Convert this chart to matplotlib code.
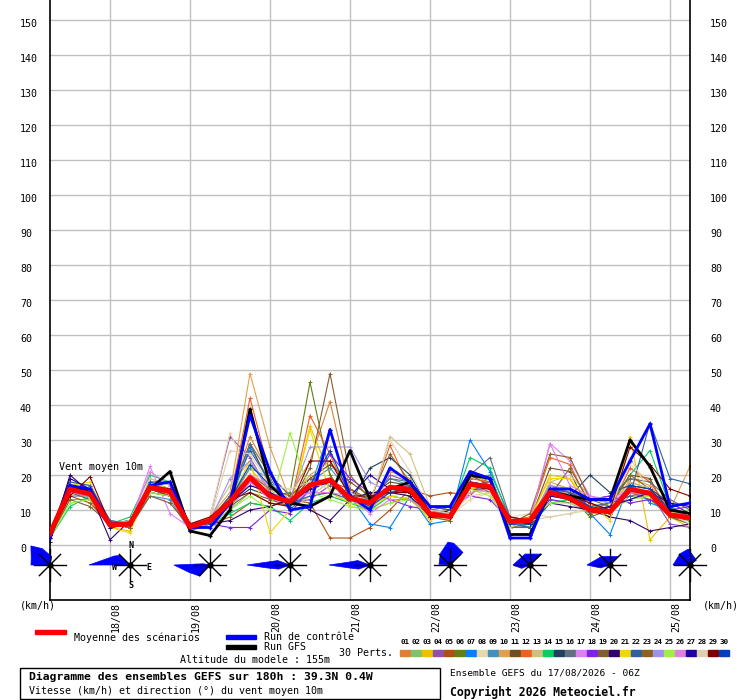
import matplotlib
matplotlib.use('Agg')
import numpy as np
import matplotlib.pyplot as plt
from matplotlib.patches import Polygon, Rectangle

# Lead times of the run (hours after 17/08 06Z)
hours = [0, 6, 12, 18, 24, 30, 36, 42, 48, 54, 60, 66, 72, 78, 84, 90, 96,
         102, 108, 114, 120, 126, 132, 138, 144, 150, 156, 162, 168, 174, 180, 186, 192]

date_labels = ['18/08', '19/08', '20/08', '21/08', '22/08', '23/08', '24/08', '25/08']
date_hours = [18, 42, 66, 90, 114, 138, 162, 186]

# Mean of the scenarios, control run and GFS run (km/h)
mean_vals = [3.3, 15.9, 14.6, 5.7, 6.0, 16.5, 15.2, 5.2, 7.0, 12.4, 19.3, 14.0, 12.4, 17.1, 18.6, 13.3, 12.1,
             16.5, 15.9, 8.9, 8.1, 17.3, 16.7, 6.7, 7.0, 15.0, 13.3, 10.0, 9.5, 15.9, 14.8, 8.6, 7.8]
control_vals = [2, 17, 16, 6, 6, 17, 18, 5, 5, 12, 37, 21, 10, 11, 33, 14, 10,
                22, 18, 11, 11, 21, 19, 2, 2, 16, 16, 13, 13, 24, 34.6, 11, 12]
gfs_vals = [3, 17, 15, 6, 6, 16, 21, 4, 2.7, 10, 38.8, 17, 12, 11, 14, 27, 13,
            16, 18, 9, 8, 20, 19, 3, 3, 15, 14, 13, 13, 30, 22.4, 10, 9]

# 30 perturbations
p01 = [2, 15, 14, 6, 5, 17, 15, 5, 7, 14, 31, 20, 14, 24, 41, 16, 12, 14, 13, 8, 9, 18, 17, 6, 6, 17, 14, 11, 8, 18, 16, 9, 7]
p02 = [3, 13, 13, 6, 7, 18, 16, 4, 6, 10, 15, 12, 11, 14, 15, 12, 10, 16, 15, 9, 8, 20, 18, 7, 6, 13, 12, 9, 9, 14, 13, 8, 6]
p03 = [4, 17, 15, 5, 4, 16, 15, 5, 8, 12, 22, 15, 10, 34, 20, 11, 10, 12, 14, 7, 10, 16, 15, 6, 7, 20, 19, 9, 10, 31, 1.5, 8, 5]
p04 = [3, 16, 15, 6, 7, 16, 14, 6, 8, 31, 25, 15, 12, 13, 17, 14, 11, 20, 18, 10, 9, 17, 18, 7, 8, 15, 16, 10, 12, 14, 15, 6, 5]
p05 = [3, 14, 12, 6, 5, 15, 14, 5, 6, 8, 12, 11, 13, 12, 2, 2, 5, 10, 16, 14, 15, 14, 20, 5, 7, 14, 15, 12, 10, 15, 13, 9, 9]
p06 = [2, 16, 15, 5, 6, 17, 16, 4, 7, 11, 18, 14, 15, 46.5, 20, 12, 11, 17, 15, 8, 9, 18, 17, 5, 6, 16, 14, 8, 10, 17, 14, 11, 8]
p07 = [3, 17, 16, 7, 6, 18, 16, 5, 6, 12, 28, 18, 10, 16, 33, 14, 6, 5, 14, 6, 7, 30, 21, 8, 7, 15, 13, 9, 3, 18, 12, 10, 9]
p08 = [4, 15, 16, 6, 7, 17, 15, 6, 8, 32, 20, 17, 13, 15, 14, 12, 10, 14, 15, 9, 8, 13, 15, 8, 9, 8, 9, 11, 10, 23, 18, 9, 10]
p09 = [3, 16, 15, 5, 6, 14, 13, 4, 6, 13, 22, 19, 11, 18, 22, 15, 13, 19, 17, 10, 8, 19, 20, 6, 5, 14, 13, 10, 11, 16, 15, 11, 8]
p10 = [4, 17, 16, 6, 6, 18, 16, 5, 8, 15, 49, 28, 13, 20, 24, 16, 12, 21, 19, 9, 10, 18, 17, 7, 6, 18, 16, 12, 9, 19, 17, 10, 22.5]
p11 = [3, 15, 13, 5, 6, 16, 15, 5, 7, 14, 29, 17, 12, 19, 23, 18, 14, 18, 17, 8, 9, 20, 17, 6, 7, 22, 21, 9, 11, 20, 19, 8, 7]
p12 = [3, 16, 15, 6, 5, 17, 16, 6, 7, 13, 42, 20, 11, 37, 26, 13, 12, 28.5, 16, 9, 8, 19, 18, 7, 8, 25, 23, 11, 10, 22, 18, 10, 8]
p13 = [4, 18, 17, 7, 6, 19, 17, 6, 8, 17, 24, 16, 10, 14, 18, 13, 11, 31, 26, 11, 10, 16, 15, 8, 6, 18, 20, 14, 12, 18, 16, 9, 10]
p14 = [2, 11, 14, 6, 8, 20, 18, 5, 6, 9, 12, 11, 7, 12, 14, 12, 10, 14, 13, 8, 9, 25, 22, 7, 5, 12, 13, 10, 12, 20, 27, 11, 7]
p15 = [3, 16, 15, 5, 6, 16, 15, 6, 7, 12, 16, 14, 12, 17, 18, 12, 22, 25, 20, 10, 9, 17, 16, 6, 8, 15, 14, 20, 15, 17, 16, 12, 9]
p16 = [4, 14, 14, 6, 7, 15, 14, 5, 8, 13, 29, 20, 14, 19, 17, 15, 13, 19, 18, 11, 10, 20, 25, 8, 7, 17, 15, 13, 14, 19, 18, 13, 10]
p17 = [3, 17, 15, 6, 6, 22.5, 9, 5, 6, 10, 18, 13, 12, 15, 19, 13, 10, 16, 17, 8, 7, 16, 17, 6, 7, 29, 24, 14, 12, 16, 15, 9, 8]
p18 = [3, 16, 16, 6, 7, 17, 15, 6, 6, 5, 5, 10, 9, 16, 26, 19, 15, 13, 11, 10, 11, 14, 13, 7, 6, 13, 12, 13, 14, 12, 13, 10, 11]
p19 = [2, 13, 11, 6, 5, 14, 12, 5, 7, 11, 15, 13, 11, 22, 49, 20, 13, 15, 16, 9, 8, 18, 15, 5, 5, 14, 22, 12, 9, 16, 14, 8, 6]
p20 = [1, 20, 15, 1.5, 7, 16, 14, 5, 6, 7, 10, 11, 13, 10, 7, 13, 15, 15, 14, 8, 10, 16, 16, 7, 6, 12, 11, 10, 8, 7, 4, 5, 6]
p21 = [3, 17, 18, 5, 3.5, 18, 16, 5, 8, 13, 24, 3.5, 10, 33, 15, 12, 11, 14, 13, 8, 7, 16, 17, 6, 8, 19, 19, 12, 7, 30, 22, 10, 7]
p22 = [3, 18, 17, 7, 6, 17, 16, 6, 7, 14, 27, 18, 12, 14, 15, 13, 12, 16, 17, 11, 10, 18, 17, 6, 5, 16, 15, 11, 12, 14, 35, 19, 17.5]
p23 = [3, 15, 14, 6, 5, 16, 14, 5, 7, 12, 20, 16, 14, 19, 18, 16, 13, 26, 18, 8, 7, 17, 16, 6, 9, 26, 25, 13, 11, 20, 16, 9, 8]
p24 = [3, 16, 15, 6, 6, 17, 16, 6, 7, 19, 24, 15, 13, 28, 28, 28, 18, 15, 16, 10, 9, 18, 17, 8, 7, 17, 16, 13, 12, 15, 14, 10, 9]
p25 = [2, 12, 13, 6, 7, 15, 14, 5, 6, 10, 14, 10, 32, 15, 13, 11, 10, 12, 13, 9, 9, 16, 14, 6, 7, 12, 12, 11, 10, 13, 14, 9, 6]
p26 = [3, 15, 14, 6, 6, 21, 17, 5, 7, 11, 20, 17, 13, 15, 15, 14, 9, 13, 13, 9, 8, 15, 16, 7, 7, 29, 17, 14, 13, 16, 15, 10, 8]
p27 = [3, 19, 16, 5, 6, 16, 15, 6, 7, 12, 17, 15, 12, 16, 18, 14, 20, 16, 15, 9, 8, 17, 16, 7, 6, 14, 13, 10, 11, 13, 15, 12, 11]
p28 = [4, 16, 15, 6, 6, 16, 15, 5, 7, 27, 26, 17, 16, 18, 16, 15, 12, 30, 21, 10, 9, 14, 15, 5, 7, 8, 9, 10, 10, 25, 15, 9, 6]
p29 = [3, 14, 19.5, 6, 6, 17, 16, 6, 8, 13, 15, 12, 11, 24, 24, 14, 14, 15, 15, 8, 8, 17, 16, 8, 7, 15, 14, 12, 10, 28, 23, 16, 14]
p30 = [3, 17, 16, 6, 6, 18, 18, 6, 6, 13, 23, 17, 11, 17, 27, 14, 11, 15, 16, 9, 8, 18, 17, 6, 6, 16, 14, 11, 10, 17, 16, 10, 9]
perts = [p01, p02, p03, p04, p05, p06, p07, p08, p09, p10, p11, p12, p13, p14, p15,
         p16, p17, p18, p19, p20, p21, p22, p23, p24, p25, p26, p27, p28, p29, p30]

pert_colors = ['#E08030', '#80C070', '#F0C000', '#9050B0', '#B05010', '#608010', '#0080FF', '#E8D8B0',
               '#4090C0', '#E0A050', '#705020', '#F06020', '#D0C080', '#00D060', '#204060', '#607080',
               '#E080F8', '#8020F0', '#806030', '#300070', '#F0D800', '#3060A0', '#906020', '#A090F0',
               '#A0F040', '#E080E0', '#2000A0', '#E0D0B0', '#800000', '#0040C0']

# Wind roses, one per day at 06Z: (bearing the wind comes from, length)
rose_hours = [0, 24, 48, 72, 96, 120, 144, 168, 192]
rose1 = [(270, 19), (290, 20), (315, 27), (335, 18), (12, 8.5)]
rose2 = [(270, 41), (300, 18), (313, 14)]
rose3 = [(222, 15), (250, 22), (270, 36), (280, 7)]
rose4 = [(250, 12), (262, 22), (270, 43), (278, 22), (290, 13)]
rose5 = [(250, 12), (262, 21), (270, 41), (278, 21), (290, 13)]
rose6 = [(274, 11), (320, 15), (355, 23), (10, 22), (46, 18)]
rose7 = [(248, 9), (270, 17), (336, 12), (47, 16)]
rose8 = [(253, 10), (270, 23), (315, 12), (45, 12)]
rose9 = [(270, 17), (319, 15), (354, 16), (53, 8)]
roses = [rose1, rose2, rose3, rose4, rose5, rose6, rose7, rose8, rose9]

MONO = 'DejaVu Sans Mono'
W, H = 740, 700


def fx(px):
    return px / W


def fy(py):
    return 1 - py / H


fig = plt.figure(figsize=(7.4, 7.0), dpi=100)
ax = fig.add_axes([50 / W, 100 / H, 640 / W, 600 / H])
ax.set_xlim(0, 192)
ax.set_ylim(-55 / 3.5, 545 / 3.5)
ax.set_xticks([])
ax.set_yticks([])
for side in ['left', 'right', 'bottom']:
    ax.spines[side].set_linewidth(1.2)
ax.spines['top'].set_visible(False)

# Grid
for v in range(0, 151, 10):
    ax.axhline(v, color='#C0C0C0', lw=1, zorder=0)
for h in date_hours:
    ax.axvline(h, color='#C0C0C0', lw=1, zorder=0)

# Ensemble members
for vals, col in zip(perts, pert_colors):
    ax.plot(hours, vals, color=col, lw=0.8, marker='+', ms=3, mew=0.7, zorder=2)
ax.plot(hours, gfs_vals, color='black', lw=2.0, marker='+', ms=3, zorder=3)
ax.plot(hours, control_vals, color='#0000FF', lw=2.0, marker='+', ms=3, zorder=3)
ax.plot(hours, mean_vals, color='#FF0000', lw=3.6, zorder=4)

ax.text(2.7, 22.3, 'Vent moyen 10m', family=MONO, fontsize=7.2, va='center', ha='left')

# Wind roses drawn in pixel offsets
xs, ys = 192 / 640, 1 / 3.5
yc = -20 / 3.5
for hc, rose in zip(rose_hours, roses):
    pts = [(hc, yc)]
    for b, L in rose:
        r = np.radians(b)
        pts.append((hc + L * np.sin(r) * xs, yc + L * np.cos(r) * ys))
    ax.add_patch(Polygon(pts, closed=True, facecolor='#0000FF', edgecolor='#0000FF', lw=0.5,
                         clip_on=False, zorder=5))
    for b in [0, 45, 90, 135]:
        r = np.radians(b)
        L = 16 if b % 90 == 0 else 15
        dx, dy = L * np.sin(r) * xs, L * np.cos(r) * ys
        ax.plot([hc - dx, hc + dx], [yc - dy, yc + dy], color='black', lw=1, clip_on=False, zorder=6)
    ax.plot(hc, yc, 'o', color='black', ms=3.5, clip_on=False, zorder=7)

# Compass letters on the second rose
for lab, dx, dy in [('N', 0.7, 19), ('E', 19, -2.3), ('S', 0.7, -21), ('W', -15.3, -2.3)]:
    ax.text(24 + dx * xs, yc + dy * ys, lab, family=MONO, fontsize=6, fontweight='bold',
            ha='center', va='center', zorder=7)

# Y labels both sides
for v in range(0, 151, 10):
    py = 545 - v * 3.5
    fig.text(fx(20), fy(py - 1), str(v), family=MONO, fontsize=7.2, ha='left', va='top')
    fig.text(fx(710), fy(py - 1), str(v), family=MONO, fontsize=7.2, ha='left', va='top')
fig.text(fx(20), fy(606), '(km/h)', family=MONO, fontsize=7.2, ha='left', va='center')
fig.text(fx(703), fy(606), '(km/h)', family=MONO, fontsize=7.2, ha='left', va='center')

# Date labels
for h, lab in zip(date_hours, date_labels):
    px = 50 + h * 640 / 192
    fig.text(fx(px + 1), fy(602), lab, family=MONO, fontsize=7.2, rotation=90, ha='left', va='top')

# Legend
fig.add_artist(Rectangle((fx(35), fy(633.5)), 31 / W, 4 / H, color='#FF0000'))
fig.add_artist(Rectangle((fx(226), fy(638.5)), 30 / W, 4 / H, color='#0000FF'))
fig.add_artist(Rectangle((fx(226), fy(648.5)), 30 / W, 4 / H, color='black'))
fig.text(fx(74.5), fy(637.5), 'Moyenne des scénarios', family=MONO, fontsize=7.2, va='center')
fig.text(fx(264.5), fy(637), 'Run de contrôle', family=MONO, fontsize=7.2, va='center')
fig.text(fx(264.5), fy(647.5), 'Run GFS', family=MONO, fontsize=7.2, va='center')
fig.text(fx(339), fy(652.5), '30 Perts.', family=MONO, fontsize=7.2, va='center')
fig.text(fx(179.5), fy(660), 'Altitude du modele : 155m', family=MONO, fontsize=7.2, va='center')
for k, col in enumerate(pert_colors):
    x0 = 400 + 11 * k
    fig.add_artist(Rectangle((fx(x0), fy(656)), 10 / W, 6 / H, color=col))
    fig.text(fx(x0 + 5), fy(642.5), '%02d' % (k + 1), family=MONO, fontsize=5.4,
             fontweight='bold', ha='center', va='center')

# Title box
fig.add_artist(Rectangle((fx(20), fy(699)), 420 / W, 31 / H, fill=False, edgecolor='black', lw=1))
fig.text(fx(29), fy(677), 'Diagramme des ensembles GEFS sur 180h : 39.3N 0.4W', family=MONO,
         fontsize=8.2, fontweight='bold', va='center')
fig.text(fx(29), fy(691.5), 'Vitesse (km/h) et direction (°) du vent moyen 10m', family=MONO,
         fontsize=7.2, va='center')
fig.text(fx(450), fy(672.5), 'Ensemble GEFS du 17/08/2026 - 06Z', family=MONO, fontsize=6.8, va='center')
fig.text(fx(450), fy(692), 'Copyright 2026 Meteociel.fr', family=MONO, fontsize=8.3,
         fontweight='bold', va='center')

fig.savefig('out.png', dpi=100)
